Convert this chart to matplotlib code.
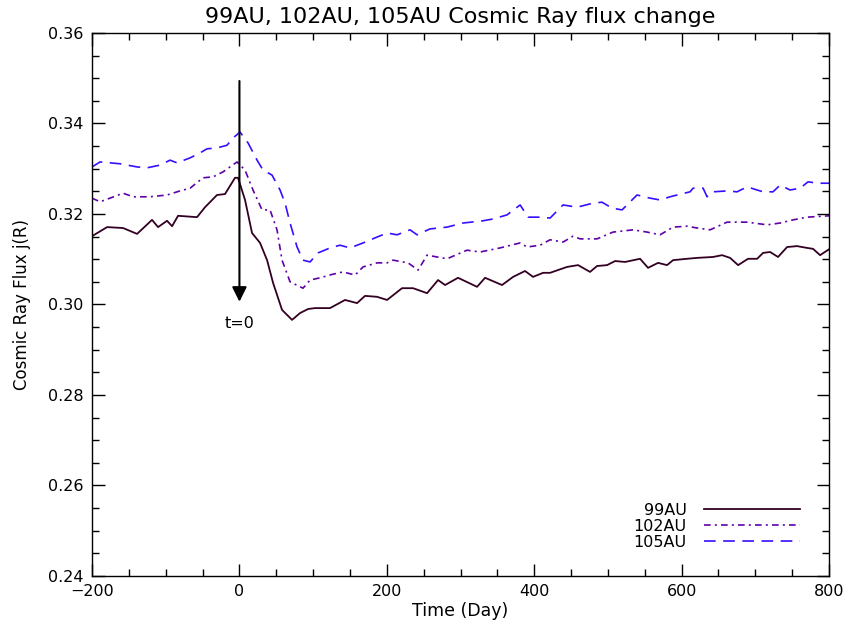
import numpy as np
import matplotlib
matplotlib.use('Agg')
import matplotlib.pyplot as plt

# 99AU (solid)
t99 = [-200, -179.6, -157.9, -138.9, -118.6, -110.4, -98.2, -91.4, -83.3, -57.5, -46.7, -30.4, -19.6,
       -6.0, -1.9, 7.6, 17.1, 28.0, 37.5, 45.6, 57.8, 71.4, 82.2, 93.1, 102.6, 122.9, 143.3, 159.6,
       170.4, 186.7, 200.3, 220.6, 235.6, 254.6, 269.5, 279.0, 296.6, 322.4, 333.3, 356.3, 371.3,
       387.5, 398.4, 412.0, 421.5, 444.5, 459.5, 475.7, 485.2, 498.8, 509.7, 523.2, 543.6, 554.4,
       568.0, 580.2, 588.4, 607.4, 621.0, 642.6, 654.9, 665.7, 676.6, 690.1, 702.4, 710.5, 720.0,
       730.8, 743.1, 756.6, 770.2, 778.3, 787.8, 800]
f99 = [0.3151, 0.3171, 0.3169, 0.3156, 0.3187, 0.3171, 0.3185, 0.3173, 0.3196, 0.3193, 0.3215, 0.3242,
       0.3244, 0.3280, 0.3280, 0.3231, 0.3158, 0.3136, 0.3098, 0.3048, 0.2988, 0.2966, 0.2981, 0.2990,
       0.2992, 0.2992, 0.3010, 0.3003, 0.3019, 0.3017, 0.3010, 0.3036, 0.3036, 0.3025, 0.3054, 0.3043,
       0.3059, 0.3039, 0.3059, 0.3043, 0.3061, 0.3074, 0.3061, 0.3070, 0.3070, 0.3083, 0.3087, 0.3072,
       0.3085, 0.3087, 0.3096, 0.3094, 0.3101, 0.3081, 0.3092, 0.3087, 0.3098, 0.3101, 0.3103, 0.3105,
       0.3109, 0.3103, 0.3087, 0.3101, 0.3101, 0.3114, 0.3116, 0.3105, 0.3127, 0.3129, 0.3125, 0.3123,
       0.3109, 0.3122]

# 102AU (dash-dot)
t102 = [-200, -189.1, -175.6, -157.9, -144.4, -121.3, -98.2, -80.6, -67.0, -49.4, -35.8, -22.3, -3.3,
        7.6, 18.4, 30.7, 41.5, 51.0, 57.8, 68.7, 86.3, 95.8, 109.4, 127.0, 140.6, 156.9, 167.7, 186.7,
        200.3, 208.4, 228.8, 242.4, 254.6, 281.7, 308.8, 326.5, 353.6, 380.8, 390.2, 407.9, 421.5,
        439.1, 452.7, 462.2, 485.2, 506.9, 534.1, 553.1, 570.7, 588.4, 607.4, 621.0, 638.6, 661.7,
        688.8, 716.0, 733.6, 751.2, 770.2, 800]
f102 = [0.3235, 0.3227, 0.3235, 0.3246, 0.3238, 0.3238, 0.3242, 0.3251, 0.3257, 0.3280, 0.3282, 0.3293,
        0.3315, 0.3297, 0.3253, 0.3209, 0.3209, 0.3165, 0.3098, 0.3050, 0.3036, 0.3054, 0.3059, 0.3067,
        0.3072, 0.3065, 0.3083, 0.3092, 0.3092, 0.3098, 0.3092, 0.3076, 0.3109, 0.3101, 0.3120, 0.3116,
        0.3125, 0.3136, 0.3127, 0.3131, 0.3143, 0.3138, 0.3151, 0.3145, 0.3145, 0.3160, 0.3165, 0.3160,
        0.3154, 0.3171, 0.3173, 0.3169, 0.3165, 0.3182, 0.3182, 0.3176, 0.3180, 0.3187, 0.3193, 0.3196]

# 105AU (dashed)
t105 = [-200, -189.1, -162.0, -138.9, -125.4, -107.7, -94.2, -84.7, -67.0, -53.5, -44.0, -30.4, -16.8,
        -8.7, 0.8, 11.7, 23.9, 32.0, 44.2, 55.1, 61.9, 68.7, 78.2, 86.3, 95.8, 106.7, 122.9, 136.5,
        150.1, 167.7, 186.7, 200.3, 213.9, 231.5, 241.0, 258.6, 281.7, 303.4, 330.5, 344.1, 363.1,
        380.8, 391.6, 407.9, 421.5, 439.1, 458.1, 479.8, 492.0, 505.6, 519.1, 539.5, 557.2, 570.7,
        584.3, 593.8, 611.4, 615.5, 629.1, 634.5, 642.6, 661.7, 675.2, 688.8, 702.4, 710.5, 724.0,
        733.6, 747.1, 760.7, 771.5, 785.1, 800]
f105 = [0.3304, 0.3315, 0.3311, 0.3304, 0.3302, 0.3308, 0.3319, 0.3313, 0.3324, 0.3335, 0.3344, 0.3346,
        0.3352, 0.3368, 0.3381, 0.3357, 0.3319, 0.3297, 0.3286, 0.3253, 0.3224, 0.3180, 0.3127, 0.3098,
        0.3094, 0.3114, 0.3125, 0.3131, 0.3125, 0.3136, 0.3149, 0.3158, 0.3154, 0.3165, 0.3154, 0.3167,
        0.3171, 0.3180, 0.3185, 0.3189, 0.3198, 0.3220, 0.3193, 0.3193, 0.3191, 0.3220, 0.3215, 0.3224,
        0.3226, 0.3213, 0.3209, 0.3242, 0.3235, 0.3231, 0.3238, 0.3242, 0.3249, 0.3257, 0.3257, 0.3238,
        0.3249, 0.3251, 0.3249, 0.3260, 0.3253, 0.3249, 0.3249, 0.3264, 0.3253, 0.3257, 0.3271, 0.3268,
        0.3268]

fig = plt.figure(figsize=(8.49, 6.37), dpi=100)
ax = fig.add_axes([0.1084, 0.0958, 0.8681, 0.8524])

ax.plot(t99, f99, color='#330022', lw=1.3, label='99AU')
ax.plot(t102, f102, color='#6000a8', lw=1.2, dashes=(4.0, 2.5, 1.2, 2.5), label='102AU')
ax.plot(t105, f105, color='#3311ff', lw=1.2, dashes=(7.0, 4.5), label='105AU')

# t=0 arrow
ax.annotate('', xy=(0, 0.300), xytext=(0, 0.350),
            arrowprops=dict(arrowstyle='-|>', color='black', lw=1.5, mutation_scale=22))
ax.text(0, 0.2975, 't=0', ha='center', va='top', fontsize=11.5)

ax.set_xlim(-200, 800)
ax.set_ylim(0.24, 0.36)
ax.set_xticks(np.arange(-200, 801, 200))
ax.set_xticks(np.arange(-200, 801, 50), minor=True)
ax.set_yticks(np.arange(0.24, 0.3601, 0.02))
ax.set_yticks(np.arange(0.24, 0.3601, 0.005), minor=True)
ax.set_yticklabels(['%.2f' % v for v in np.arange(0.24, 0.3601, 0.02)])
ax.tick_params(which='both', direction='in', top=True, right=True, labelsize=11.5, width=1.0)
ax.tick_params(which='major', length=9, pad=6)
ax.tick_params(which='minor', length=5)
for s in ax.spines.values():
    s.set_linewidth(1.0)

ax.set_xlabel('Time (Day)', fontsize=12.5, labelpad=2)
ax.set_ylabel('Cosmic Ray Flux j(R)', fontsize=12, labelpad=12)
ax.set_title('99AU, 102AU, 105AU Cosmic Ray flux change', fontsize=16, pad=7)

ax.legend(loc='lower right', bbox_to_anchor=(0.98, 0.022), frameon=False, markerfirst=False,
          handlelength=6.0, fontsize=11.5, labelspacing=0.05, handletextpad=1.1)

plt.savefig('out.png', dpi=100)
